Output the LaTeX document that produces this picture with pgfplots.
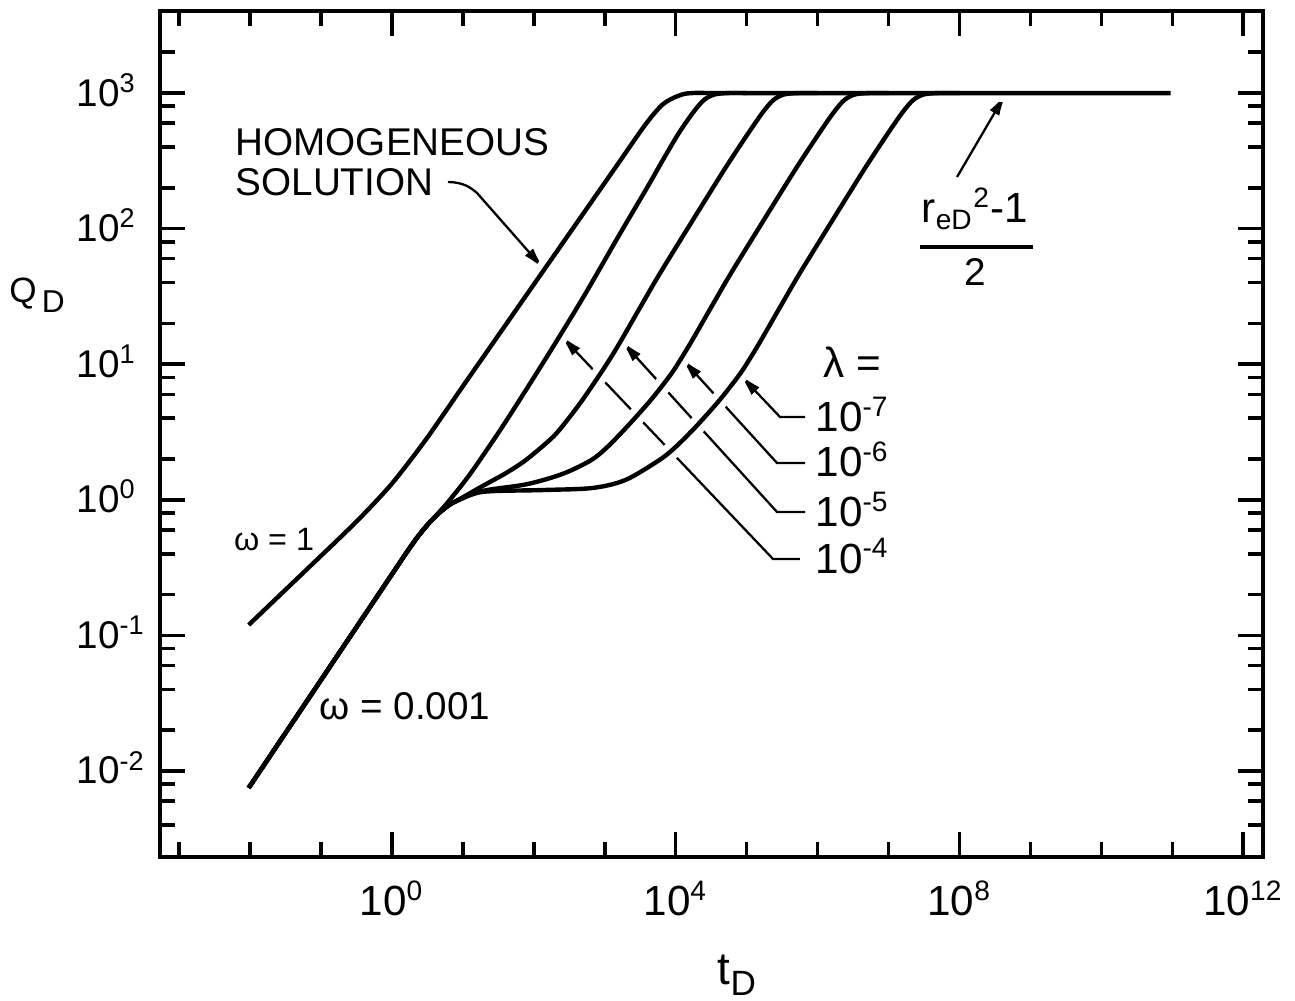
\documentclass[border=0pt]{standalone}
\usepackage{fontspec}
\setmainfont{Liberation Sans}
\usepackage{pgfplots}
\usepackage{pgfplotstable}
\pgfplotsset{compat=1.18}
\usetikzlibrary{arrows.meta,calc}

% homogeneous solution (omega = 1)
\pgfplotstableread{
t Q
0.00955 0.1194
0.03162 0.2173
0.1 0.3864
0.1778 0.5152
0.3162 0.6918
0.5623 0.9441
1 1.318
1.778 1.928
3.162 2.884
5.623 4.446
10 6.887
29.44 15.49
140.3 50.00
924.7 205.6
1607 311.2
3741 586.1
6516 822.2
10590 948.4
17260 1000
1e5 1000
9.5e10 1000
}\homog

% omega = 0.001, the early part is the same in every table
\pgfplotstableread{
t Q
0.00955 0.0075
0.03162 0.0191
0.1 0.0469
0.3162 0.1151
1 0.2825
1.585 0.4046
2.239 0.5224
3.162 0.6531
4.467 0.7943
6.310 0.9772
10 1.318
14.89 1.750
35.81 3.443
94.84 7.638
236.0 16.41
532.1 33.11
1585 89.13
4130 208.9
6516 317.7
11220 512.9
17780 724.4
25120 891.3
35480 977.2
56230 1000
1e5 1000
}\lamfour

\pgfplotstableread{
t Q
0.00955 0.0075
0.03162 0.0191
0.1 0.0469
0.3162 0.1151
1 0.2825
1.585 0.4046
2.239 0.5224
3.162 0.6531
4.467 0.7870
6.310 0.9099
7.943 0.9750
18.71 1.259
39.81 1.567
75.68 1.950
158.5 2.692
228.6 3.273
445.7 5.129
853.1 8.414
1202 11.09
1698 14.96
3451 28.51
6577 50.70
35160 208.9
58480 317.7
107200 512.9
169800 724.4
239900 891.3
338800 977.2
537000 1000
1e6 1000
}\lamfive

\pgfplotstableread{
t Q
0.00955 0.0075
0.03162 0.0191
0.1 0.0469
0.3162 0.1151
1 0.2825
1.585 0.4046
2.239 0.5224
3.162 0.6531
4.467 0.7870
6.310 0.9099
7.943 0.9750
18.71 1.161
79.43 1.303
251.2 1.549
631.0 1.950
1064 2.427
2042 3.443
4457 5.445
8531 8.414
12020 11.09
16980 14.96
34510 28.51
65770 50.70
351600 208.9
584800 317.7
1.072e6 512.9
1.698e6 724.4
2.399e6 891.3
3.388e6 977.2
5.370e6 1000
1e7 1000
}\lamsix

\pgfplotstableread{
t Q
0.00955 0.0075
0.03162 0.0191
0.1 0.0469
0.3162 0.1151
1 0.2825
1.585 0.4046
2.239 0.5224
3.162 0.6531
4.467 0.7870
6.310 0.9099
7.943 0.9750
18.71 1.143
131.5 1.180
668.3 1.222
1954 1.400
5902 1.968
9931 2.449
19050 3.443
41590 5.445
79620 8.414
112200 11.09
158500 14.96
322100 28.51
613800 50.70
3.281e6 208.9
5.458e6 317.7
1.0e7 512.9
1.585e7 724.4
2.239e7 891.3
3.162e7 977.2
5.012e7 1000
1e8 1000
}\lamseven

\pgfplotsset{
  curve/.style={black, line width=1.25pt, smooth, tension=0.5},
  halo/.style={white, line width=5pt, smooth, tension=0.5, forget plot},
}
\tikzset{leader/.style={line width=0.65pt, -{Latex[length=2.3mm,width=1.1mm]}}}

\begin{document}
\begin{tikzpicture}
\begin{axis}[
  scale only axis,
  width=110.3mm, height=84.6mm,
  xmode=log, ymode=log,
  xmin=5.37e-4, xmax=1.9e12,
  ymin=2.32e-3, ymax=4.03e3,
  axis line style={line width=1.1pt},
  tick align=inside,
  major tick length=2.5mm, minor tick length=1.5mm,
  tick style={black, line width=1pt},
  xtick={1,1e4,1e8,1e12},
  xticklabels={10\textsuperscript{0},10\textsuperscript{4},10\textsuperscript{8},10\textsuperscript{12}},
  minor xtick={1e-3,1e-2,0.1,10,100,1e3,1e5,1e6,1e7,1e9,1e10,1e11},
  ytick={1e-2,0.1,1,10,100,1e3},
  yticklabels={10\textsuperscript{-2},10\textsuperscript{-1},10\textsuperscript{0},10\textsuperscript{1},10\textsuperscript{2},10\textsuperscript{3}},
  minor ytick={4e-3,6e-3,8e-3,2e-2,4e-2,6e-2,8e-2,0.2,0.4,0.6,0.8,2,4,6,8,20,40,60,80,200,400,600,800,2000},
  xticklabel style={font=\fontsize{12}{14}\selectfont, inner sep=0pt, yshift=-2.3mm},
  yticklabel style={font=\fontsize{11}{13}\selectfont, inner sep=0pt, anchor=base west, xshift=-8.4mm, yshift=-1.3mm},
  clip=false,
]
\coordinate (bl) at (rel axis cs:0,0);
\coordinate (tr) at (rel axis cs:1,1);

% leader lines first, the curves get a white halo over them
\draw[leader] (rel axis cs:0.2611,0.7979) .. controls (rel axis cs:0.2747,0.7975) and (rel axis cs:0.281,0.792) .. (rel axis cs:0.2874,0.7849) -- (axis cs:140.3,50.0);
\draw[leader] (rel axis cs:0.5848,0.5201) -- (rel axis cs:0.5621,0.5201) -- (axis cs:79620,8.414);
\draw[leader] (rel axis cs:0.5848,0.4657) -- (rel axis cs:0.5594,0.4657) -- (axis cs:12020,11.09);
\draw[leader] (rel axis cs:0.5848,0.4078) -- (rel axis cs:0.5594,0.4078) -- (axis cs:1698,14.96);
\draw[leader] (rel axis cs:0.5802,0.3522) -- (rel axis cs:0.5558,0.3522) -- (axis cs:236,16.41);
\draw[leader] (rel axis cs:0.7226,0.8038) -- (axis cs:4.55e8,1000);

\addplot[halo] table {\homog};
\addplot[halo] table {\lamfour};
\addplot[halo] table {\lamfive};
\addplot[halo] table {\lamsix};
\addplot[halo] table {\lamseven};

\addplot[curve] table {\homog};
\addplot[curve] table {\lamfour};
\addplot[curve] table {\lamfive};
\addplot[curve] table {\lamsix};
\addplot[curve] table {\lamseven};

\node[anchor=north west, inner sep=0pt, align=left, font=\fontsize{11}{11.4}\selectfont]
  at (rel axis cs:0.068,0.8617) {HOMOGENEOUS\\SOLUTION};
\node[font=\fontsize{9.2}{11}\selectfont] at (rel axis cs:0.1034,0.3747) {ω = 1};
\node[font=\fontsize{11}{13}\selectfont] at (rel axis cs:0.2221,0.1785) {ω = 0.001};
\node[anchor=west, inner sep=0pt, font=\fontsize{12}{14}\selectfont] at (rel axis cs:0.6011,0.5851) {λ =};
\node[anchor=base west, inner sep=0pt, font=\fontsize{12}{14}\selectfont] at (rel axis cs:0.5938,0.5024) {10\textsuperscript{-7}};
\node[anchor=base west, inner sep=0pt, font=\fontsize{12}{14}\selectfont] at (rel axis cs:0.5938,0.4492) {10\textsuperscript{-6}};
\node[anchor=base west, inner sep=0pt, font=\fontsize{12}{14}\selectfont] at (rel axis cs:0.5938,0.3901) {10\textsuperscript{-5}};
\node[anchor=base west, inner sep=0pt, font=\fontsize{12}{14}\selectfont] at (rel axis cs:0.5938,0.3357) {10\textsuperscript{-4}};

\node[anchor=base, inner sep=0pt, font=\fontsize{12}{14}\selectfont] at (rel axis cs:0.7389,0.7494) {r\textsubscript{eD}\textsuperscript{2}-1};
\draw[line width=0.9pt] (rel axis cs:0.6890,0.7210) -- (rel axis cs:0.7915,0.7210);
\node[anchor=base, inner sep=0pt, font=\fontsize{11}{13}\selectfont] at (rel axis cs:0.7389,0.6761) {2};

\node[font=\fontsize{10}{12}\selectfont] at (rel axis cs:-0.1115,0.6643) {Q\hspace{0.5mm}\raisebox{-2.8pt}{\fontsize{9}{11}\selectfont D}};
\node[font=\fontsize{13}{15}\selectfont] at (rel axis cs:0.5231,-0.1395) {t\raisebox{-3pt}{\fontsize{10}{12}\selectfont D}};
\end{axis}
\pgfresetboundingbox
\path[use as bounding box] ($(bl)+(-16mm,-14.3mm)$) rectangle ($(tr)+(3.2mm,1.1mm)$);
\end{tikzpicture}
\end{document}
